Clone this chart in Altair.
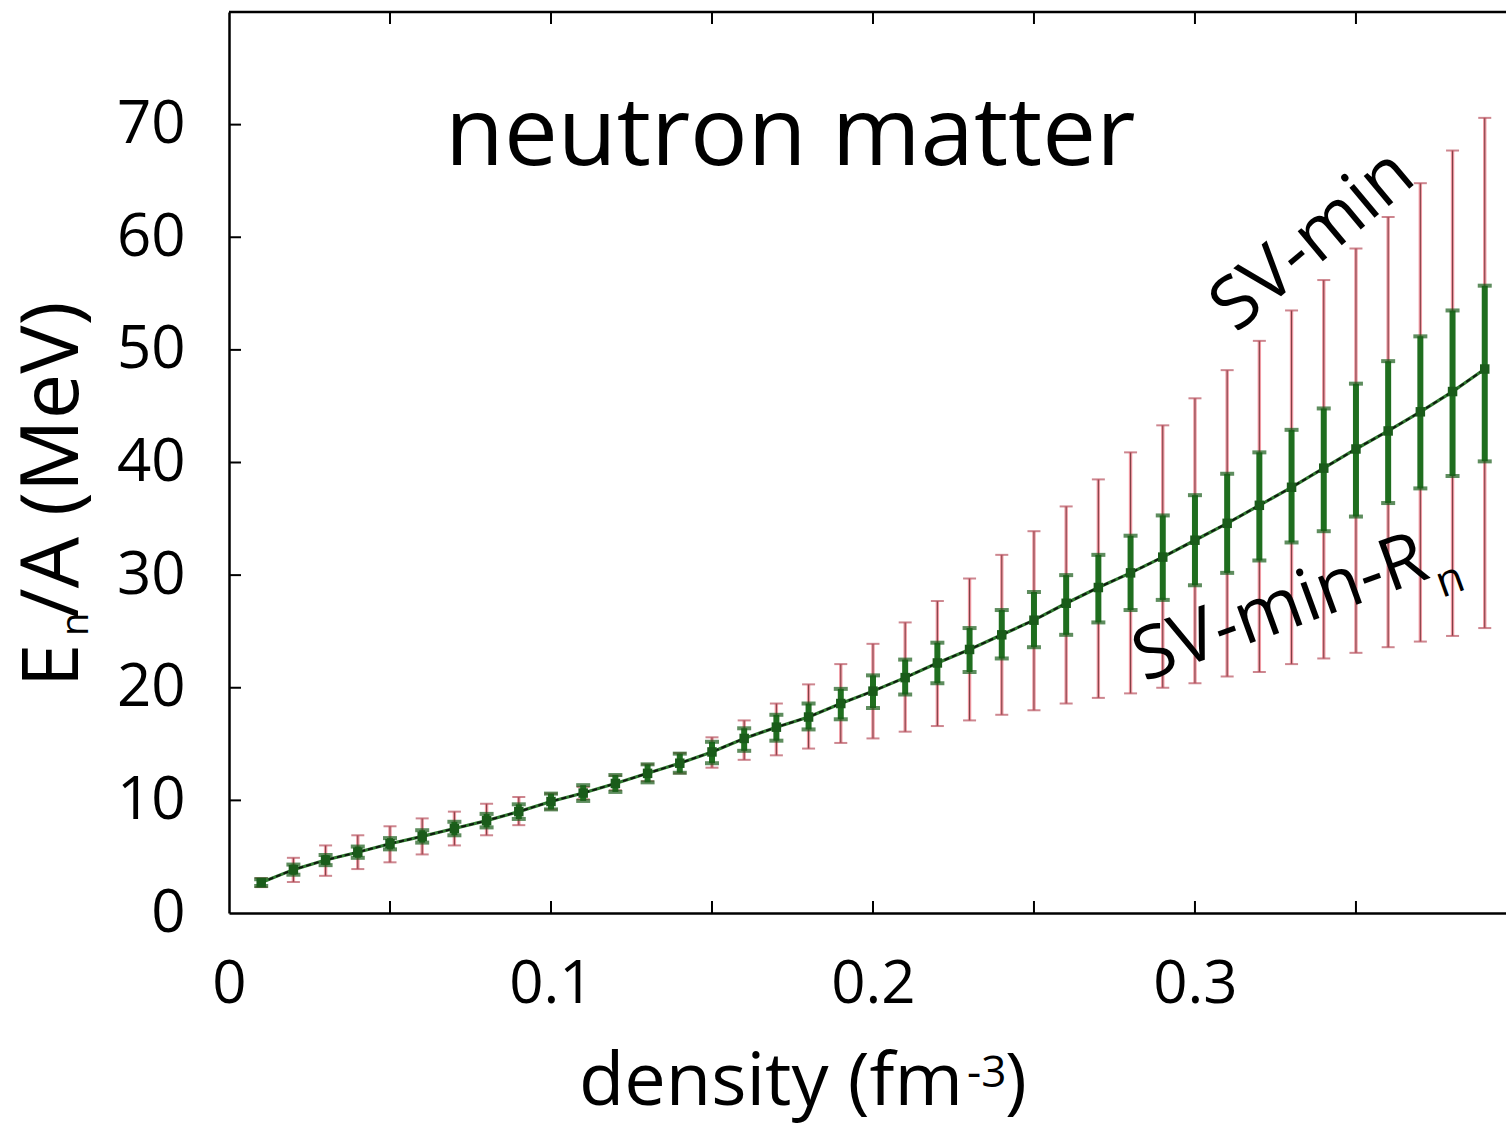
import altair as alt
import pandas as pd

# ---- data ----
density = [0.01, 0.02, 0.03, 0.04, 0.05, 0.06, 0.07, 0.08, 0.09, 0.10,
           0.11, 0.12, 0.13, 0.14, 0.15, 0.16, 0.17, 0.18, 0.19, 0.20,
           0.21, 0.22, 0.23, 0.24, 0.25, 0.26, 0.27, 0.28, 0.29, 0.30,
           0.31, 0.32, 0.33, 0.34, 0.35, 0.36, 0.37, 0.38, 0.39]
energy = [2.7, 3.85, 4.7, 5.4, 6.15, 6.8, 7.5, 8.2, 9.0, 9.9,
          10.65, 11.5, 12.4, 13.3, 14.3, 15.5, 16.5, 17.4, 18.6, 19.7,
          20.9, 22.2, 23.4, 24.7, 26.0, 27.5, 28.9, 30.2, 31.6, 33.1,
          34.6, 36.2, 37.8, 39.5, 41.2, 42.8, 44.5, 46.3, 48.3]
svmin_hi = [3.1, 4.9, 6.0, 6.9, 7.7, 8.4, 9.0, 9.7, 10.3, 10.6,
            11.2, 12.2, 13.2, 14.2, 15.6, 17.1, 18.6, 20.3, 22.1, 23.9,
            25.8, 27.7, 29.7, 31.8, 33.9, 36.1, 38.5, 40.9, 43.3, 45.7,
            48.2, 50.8, 53.5, 56.2, 59.0, 61.8, 64.8, 67.7, 70.6]
svmin_lo = [2.3, 2.75, 3.3, 3.9, 4.5, 5.2, 6.0, 6.9, 7.8, 9.2,
            10.1, 10.9, 11.7, 12.4, 12.9, 13.6, 14.0, 14.6, 15.1, 15.5,
            16.1, 16.6, 17.1, 17.6, 18.0, 18.6, 19.1, 19.5, 20.0, 20.4,
            21.0, 21.4, 22.1, 22.6, 23.1, 23.6, 24.1, 24.6, 25.3]
rn_hi = [3.0, 4.3, 5.15, 5.9, 6.65, 7.35, 8.1, 8.8, 9.65, 10.6,
         11.35, 12.25, 13.2, 14.15, 15.2, 16.4, 17.6, 18.6, 19.9, 21.1,
         22.5, 24.0, 25.3, 26.9, 28.5, 30.0, 31.8, 33.5, 35.3, 37.1,
         39.0, 40.9, 42.9, 44.8, 47.0, 49.0, 51.2, 53.5, 55.7]
rn_lo = [2.4, 3.4, 4.25, 4.9, 5.65, 6.25, 6.9, 7.6, 8.35, 9.2,
         9.95, 10.75, 11.6, 12.45, 13.3, 14.4, 15.3, 16.3, 17.2, 18.2,
         19.4, 20.4, 21.4, 22.6, 23.6, 24.7, 25.8, 26.9, 27.8, 29.1,
         30.2, 31.3, 32.9, 33.9, 35.2, 36.4, 37.7, 38.8, 40.1]

x_tick_labels = [0, 0.1, 0.2, 0.3]
x_minor_ticks = [0.05, 0.1, 0.15, 0.2, 0.25, 0.3, 0.35]
y_tick_labels = [0, 10, 20, 30, 40, 50, 60, 70]
y_inner_ticks = [10, 20, 30, 40, 50, 60, 70]

W, H = 1277, 901
FONT = "Open Sans"

df = pd.DataFrame({"d": density, "e": energy, "rh": svmin_hi, "rl": svmin_lo,
                   "gh": rn_hi, "gl": rn_lo})

xs = alt.Scale(domain=[0, 0.3966], nice=False, zero=False)
ys = alt.Scale(domain=[0, 80], nice=False, zero=False)

AX_X = alt.Axis(values=x_tick_labels, title=None, grid=False, tickSize=0,
                format="~g", labelFontSize=60, labelFont=FONT,
                labelColor="black", labelPadding=42, domainColor="black",
                domainWidth=2.5, labelFlush=False)
AX_Y = alt.Axis(values=y_tick_labels, title=None, grid=False, tickSize=0,
                labelFontSize=60, labelFont=FONT, labelColor="black",
                labelPadding=44, domainColor="black", domainWidth=2.5)


def XQ(field):
    return alt.X(field, scale=xs, axis=AX_X, title=None)


def YQ(field):
    return alt.Y(field, scale=ys, axis=AX_Y, title=None)


base = alt.Chart(df)

red_outer = base.mark_rule(color="#f09aa3", strokeWidth=3.4, clip=True).encode(
    x=XQ("d:Q"), y=YQ("rl:Q"), y2="rh:Q")
red_inner = base.mark_rule(color="#7a3b40", strokeWidth=1, clip=True).encode(
    x=XQ("d:Q"), y=YQ("rl:Q"), y2="rh:Q")
red_cap_hi = base.mark_tick(color="#b8535f", orient="horizontal", size=13,
                            thickness=2, clip=True).encode(
    x=XQ("d:Q"), y=YQ("rh:Q"))
red_cap_lo = base.mark_tick(color="#b8535f", orient="horizontal", size=13,
                            thickness=2, clip=True).encode(
    x=XQ("d:Q"), y=YQ("rl:Q"))

green_bar = base.mark_rule(color="#1f6e1f", strokeWidth=6, clip=True).encode(
    x=XQ("d:Q"), y=YQ("gl:Q"), y2="gh:Q")
green_cap_hi = base.mark_tick(color="#1a5c1a", orient="horizontal", size=14,
                              thickness=4, clip=True).encode(
    x=XQ("d:Q"), y=YQ("gh:Q"))
green_cap_lo = base.mark_tick(color="#1a5c1a", orient="horizontal", size=14,
                              thickness=4, clip=True).encode(
    x=XQ("d:Q"), y=YQ("gl:Q"))

line_g = base.mark_line(color="#2f7a2f", strokeWidth=3.2, clip=True).encode(
    x=XQ("d:Q"), y=YQ("e:Q"))
line_k = base.mark_line(color="#101810", strokeWidth=2, strokeDash=[5, 3],
                        clip=True).encode(
    x=XQ("d:Q"), y=YQ("e:Q"))
points = base.mark_square(color="#1a5c1a", size=90, opacity=1, clip=True).encode(
    x=XQ("d:Q"), y=YQ("e:Q"))

# inward ticks and top border
xt = pd.DataFrame({"v": x_minor_ticks})
yt = pd.DataFrame({"v": y_inner_ticks})
bottom_ticks = alt.Chart(xt).mark_rule(color="black", strokeWidth=2).encode(
    x=XQ("v:Q"), y=alt.value(H), y2=alt.value(H - 12))
top_ticks = alt.Chart(xt).mark_rule(color="black", strokeWidth=2).encode(
    x=XQ("v:Q"), y=alt.value(0), y2=alt.value(12))
left_ticks = alt.Chart(yt).mark_rule(color="black", strokeWidth=2).encode(
    y=YQ("v:Q"), x=alt.value(0), x2=alt.value(12))
top_border = alt.Chart(pd.DataFrame({"a": [0]})).mark_rule(
    color="black", strokeWidth=2.5).encode(
    y=alt.value(0), x=alt.value(0), x2=alt.value(W))


def label(txt, x, y, size, angle=0, align="left", baseline="alphabetic"):
    kw = dict(fontSize=size, font=FONT, color="black", align=align,
              baseline=baseline)
    if angle:
        kw["angle"] = angle
    return alt.Chart(pd.DataFrame({"t": [txt]})).mark_text(**kw).encode(
        text="t:N", x=alt.value(x), y=alt.value(y))


texts = [
    label("neutron matter", 216, 153, 96),
    label("SV-min", 1007, 322, 73, angle=320),
    label("SV-min-R", 915, 670, 73, angle=340),
    label("n", 1213, 586, 44, angle=340),
    # y title pieces
    label("E", -151, 675, 78, angle=270),
    label("n", -141, 624, 38, angle=270),
    label("/A (MeV)", -151, 606, 81, angle=270),
    # x title pieces
    label("density (fm", 734, 1093, 74, align="right"),
    label("-3", 738, 1075, 44),
    label(")", 776, 1093, 74),
]

chart = alt.layer(
    red_outer, red_inner, red_cap_hi, red_cap_lo,
    green_bar, green_cap_hi, green_cap_lo,
    line_g, line_k, points,
    bottom_ticks, top_ticks, left_ticks, top_border,
    *texts
).properties(
    width=W, height=H,
    autosize=alt.AutoSizeParams(type="none"),
    padding={"left": 229, "top": 12, "right": 0, "bottom": 211},
    background="white",
).configure_view(stroke=None)

chart.save("out.html", embed_options={"renderer": "svg", "actions": False})
